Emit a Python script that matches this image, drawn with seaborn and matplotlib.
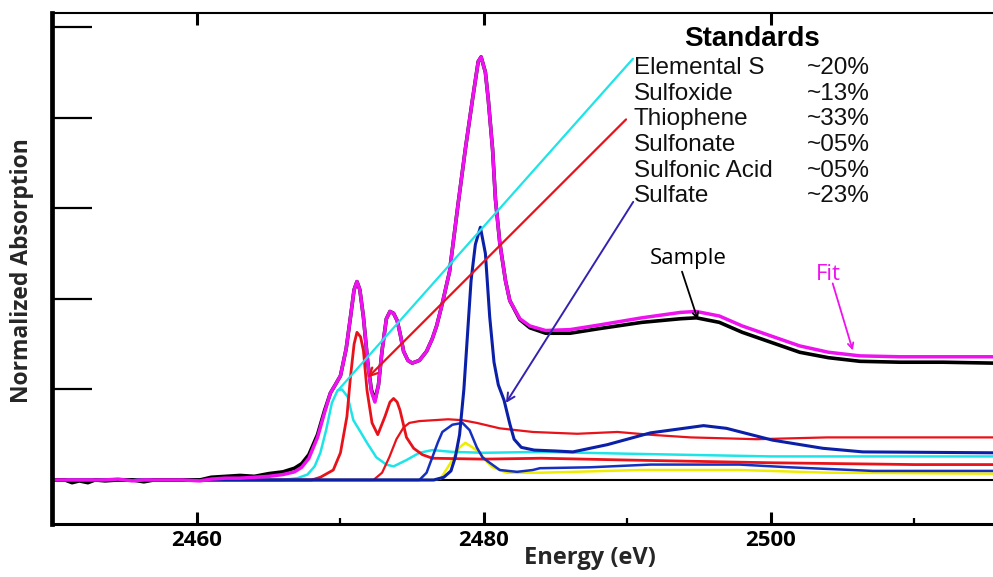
import matplotlib
matplotlib.use("Agg")
import matplotlib.pyplot as plt
import seaborn as sns

# ---------------- data ----------------
energy = [2449.9, 2450.8, 2451.3, 2451.8, 2452.4, 2452.9, 2453.6, 2454.5, 2455.5, 2456.3,
          2457.0, 2459.0, 2460.2, 2461.0, 2462.0, 2463.0, 2464.0, 2465.0, 2466.0, 2466.8,
          2467.3, 2467.8, 2468.4, 2468.9, 2469.3, 2469.6, 2470.0, 2470.4, 2470.7, 2470.95,
          2471.15, 2471.35, 2471.6, 2471.9, 2472.15, 2472.4, 2472.65, 2472.9, 2473.2, 2473.45,
          2473.7, 2473.95, 2474.15, 2474.4, 2474.7, 2475.0, 2475.5, 2476.0, 2476.4, 2476.7,
          2477.1, 2477.6, 2478.2, 2478.7, 2479.2, 2479.6, 2479.8, 2480.1, 2480.3, 2480.6,
          2480.8, 2481.1, 2481.5, 2481.8, 2482.5, 2483.2, 2484.3, 2486.0, 2488.0, 2491.0,
          2493.7, 2494.8, 2496.4, 2498.0, 2500.0, 2502.0, 2504.0, 2506.2, 2509.0, 2512.0, 2515.5]

sample = [0.0, 0.0, -0.03, -0.01, -0.03, 0.0, -0.01, 0.0, 0.0, -0.02,
          0.0, 0.0, 0.0, 0.03, 0.04, 0.05, 0.04, 0.07, 0.09, 0.13,
          0.18, 0.28, 0.5, 0.77, 0.96, 1.04, 1.15, 1.45, 1.8, 2.1,
          2.19, 2.1, 1.8, 1.3, 1.0, 0.88, 1.05, 1.43, 1.78, 1.86,
          1.84, 1.76, 1.62, 1.42, 1.32, 1.29, 1.32, 1.42, 1.56, 1.7,
          1.95, 2.3, 3.05, 3.65, 4.2, 4.62, 4.67, 4.5, 4.2, 3.65,
          3.1, 2.62, 2.2, 1.98, 1.77, 1.68, 1.62, 1.62, 1.67, 1.74,
          1.78, 1.79, 1.74, 1.63, 1.52, 1.41, 1.35, 1.31, 1.30, 1.30, 1.29]

fit = [0.0, 0.0, 0.0, 0.0, 0.0, 0.0, 0.0, 0.01, -0.01, 0.0,
       0.0, 0.0, -0.01, 0.01, 0.02, 0.02, 0.03, 0.04, 0.06, 0.09,
       0.14, 0.24, 0.47, 0.75, 0.96, 1.04, 1.15, 1.45, 1.8, 2.1,
       2.19, 2.1, 1.8, 1.3, 0.98, 0.86, 1.05, 1.43, 1.78, 1.86,
       1.84, 1.76, 1.62, 1.42, 1.32, 1.29, 1.32, 1.42, 1.56, 1.7,
       1.95, 2.3, 3.05, 3.65, 4.2, 4.62, 4.67, 4.5, 4.2, 3.65,
       3.1, 2.62, 2.2, 1.98, 1.78, 1.70, 1.65, 1.66, 1.71, 1.79,
       1.85, 1.86, 1.81, 1.70, 1.59, 1.48, 1.41, 1.37, 1.36, 1.36, 1.36]

elemental_E = [2449.9, 2466.0, 2467.0, 2467.7, 2468.2, 2468.6, 2469.0, 2469.4, 2469.8, 2470.1,
               2470.5, 2470.9, 2471.4, 2471.85, 2472.5, 2473.2, 2473.7, 2474.6, 2475.5, 2476.4,
               2477.8, 2480.0, 2484.0, 2490.0, 2500.0, 2515.5]
elemental_A = [0, 0, 0.02, 0.06, 0.15, 0.3, 0.55, 0.85, 0.99, 1.0,
               0.92, 0.66, 0.53, 0.41, 0.25, 0.17, 0.15, 0.22, 0.3, 0.33,
               0.31, 0.3, 0.31, 0.29, 0.26, 0.26]

thiophene_E = [2449.9, 2468.0, 2468.6, 2469.5, 2470.0, 2470.45, 2470.7, 2470.95, 2471.15, 2471.4,
               2471.6, 2471.85, 2472.2, 2472.6, 2473.1, 2473.45, 2473.7, 2473.95, 2474.15, 2474.6,
               2475.1, 2475.7, 2476.4, 2480.0, 2484.0, 2490.0, 2500.0, 2510.0, 2515.5]
thiophene_A = [0, 0, 0.03, 0.11, 0.3, 0.7, 1.14, 1.5, 1.63, 1.58,
               1.43, 0.99, 0.63, 0.5, 0.7, 0.86, 0.9, 0.86, 0.77, 0.47,
               0.35, 0.28, 0.24, 0.23, 0.24, 0.22, 0.19, 0.17, 0.17]

sulfoxide_E = [2449.9, 2472.3, 2472.9, 2473.4, 2473.9, 2474.4, 2474.8, 2475.5, 2476.5, 2477.5,
               2478.5, 2479.5, 2481.1, 2483.4, 2486.5, 2489.3, 2491.5, 2494.4, 2499.0, 2503.9, 2515.5]
sulfoxide_A = [0, 0, 0.08, 0.25, 0.45, 0.58, 0.63, 0.65, 0.66, 0.67,
               0.66, 0.63, 0.57, 0.53, 0.51, 0.53, 0.5, 0.47, 0.45, 0.47, 0.47]

sulfate_E = [2449.9, 2476.5, 2477.2, 2477.7, 2478.0, 2478.3, 2478.6, 2478.85, 2479.1, 2479.4,
             2479.75, 2480.1, 2480.4, 2480.7, 2481.0, 2481.4, 2481.8, 2482.1, 2482.6, 2483.5,
             2485.0, 2486.2, 2488.6, 2491.6, 2495.3, 2496.9, 2500.1, 2503.6, 2506.4, 2515.5]
sulfate_A = [0, 0, 0.03, 0.1, 0.25, 0.5, 1.0, 1.6, 2.2, 2.6,
             2.79, 2.5, 1.8, 1.3, 1.05, 0.88, 0.62, 0.45, 0.36, 0.33,
             0.32, 0.31, 0.39, 0.52, 0.6, 0.57, 0.44, 0.35, 0.31, 0.3]

sulfonate_E = [2449.9, 2475.5, 2476.0, 2476.4, 2476.8, 2477.1, 2477.8, 2478.5, 2479.0, 2479.5,
               2479.9, 2480.4, 2481.1, 2482.3, 2483.4, 2483.9, 2487.4, 2491.6, 2497.8, 2501.3,
               2507.1, 2515.5]
sulfonate_A = [0, 0, 0.08, 0.25, 0.42, 0.53, 0.61, 0.63, 0.55, 0.36,
               0.25, 0.19, 0.11, 0.09, 0.11, 0.13, 0.14, 0.17, 0.17, 0.14,
               0.1, 0.1]

sulfonic_E = [2449.9, 2476.5, 2477.0, 2477.6, 2478.3, 2478.7, 2479.2, 2479.7, 2480.2, 2480.6,
              2481.6, 2482.5, 2483.9, 2490.9, 2497.8, 2504.1, 2515.5]
sulfonic_A = [0, 0, 0.02, 0.17, 0.36, 0.41, 0.36, 0.3, 0.2, 0.14,
              0.08, 0.08, 0.08, 0.11, 0.11, 0.08, 0.07]

standards = ["Elemental S", "Sulfoxide", "Thiophene", "Sulfonate", "Sulfonic Acid", "Sulfate"]
percents = ["~20%", "~13%", "~33%", "~05%", "~05%", "~23%"]

x_major = [2460, 2480, 2500]
x_major_labels = ["2460", "2480", "2500"]
x_minor = [2470, 2490, 2510]
y_ticks = [1, 2, 3, 4, 5]

# ---------------- style ----------------
sns.set_style("white")
plt.rcParams["font.family"] = ["Liberation Sans", "DejaVu Sans"]

CYAN = "#1ee4e8"
RED = "#e8121a"
BLUE = "#0b20a8"
BLUE2 = "#1530c0"
YELLOW = "#f0ec00"
MAGENTA = "#ee12ee"
ARROW_BLUE = "#3422b0"

fig = plt.figure(figsize=(9.93, 5.77), dpi=100)
ax = fig.add_axes([52 / 993, 53 / 577, 941 / 993, 511 / 577])

ax.axhline(0, color="black", lw=1.5, zorder=1)

components = [
    (sulfonic_E, sulfonic_A, YELLOW, 1.8),
    (elemental_E, elemental_A, CYAN, 1.8),
    (sulfoxide_E, sulfoxide_A, RED, 1.6),
    (thiophene_E, thiophene_A, RED, 2.0),
    (sulfonate_E, sulfonate_A, BLUE2, 1.8),
    (sulfate_E, sulfate_A, BLUE, 2.2),
]
for E, A, c, lw in components:
    sns.lineplot(x=E, y=A, ax=ax, color=c, linewidth=lw, estimator=None,
                 sort=False, legend=False)

sns.lineplot(x=energy, y=sample, ax=ax, color="black", linewidth=2.6,
             estimator=None, sort=False, legend=False)
sns.lineplot(x=energy, y=fit, ax=ax, color=MAGENTA, linewidth=2.5,
             estimator=None, sort=False, legend=False)

ax.set_xlim(2449.9, 2515.47)
ax.set_ylim(-0.486, 5.155)

# ticks
ax.set_xticks(x_major)
ax.set_xticklabels(x_major_labels, fontfamily="Open Sans", fontweight="bold", fontsize=16)
ax.set_xticks(x_minor, minor=True)
ax.tick_params(axis="x", which="major", direction="in", length=8.6, width=2.2,
               top=True, bottom=True, pad=4, colors="black")
ax.tick_params(axis="x", which="minor", direction="in", length=4.3, width=1.6,
               top=False, bottom=True, colors="black")
ax.set_yticks(y_ticks)
ax.tick_params(axis="y", direction="in", length=29, width=1.6, left=True,
               labelleft=False, colors="black")

for side, lw in [("left", 3.4), ("bottom", 2.2), ("top", 1.5)]:
    ax.spines[side].set_linewidth(lw)
    ax.spines[side].set_color("black")
ax.spines["right"].set_visible(False)

ax.set_xlabel("Energy (eV)", fontfamily="Open Sans", fontweight="bold", fontsize=17)
ax.xaxis.set_label_coords(0.572, -0.067)
ax.xaxis.label.set_verticalalignment("center")
ax.set_ylabel("Normalized Absorption", fontfamily="Open Sans", fontweight="bold", fontsize=16.5)
ax.yaxis.set_label_coords(-0.032, 0.495)
ax.yaxis.label.set_verticalalignment("center")

# Standards block
ax.text(2498.68, 4.79, "Standards", ha="center", va="baseline", fontsize=20,
        fontweight="bold", color="black")
y0, dy = 4.48, 0.2826
for i, (name, pct) in enumerate(zip(standards, percents)):
    ax.text(2490.45, y0 - i * dy, name, ha="left", va="baseline", fontsize=17.5, color="#111111")
    ax.text(2502.5, y0 - i * dy, pct, ha="left", va="baseline", fontsize=17.5, color="#111111")

# pointer lines
ax.annotate("", xy=(2469.83, 0.99), xytext=(2490.38, 4.65),
            arrowprops=dict(arrowstyle="-", color=CYAN, lw=1.6, shrinkA=0, shrinkB=0))
ax.annotate("", xy=(2471.9, 1.13), xytext=(2489.9, 3.98),
            arrowprops=dict(arrowstyle="->", color=RED, lw=1.6, shrinkA=0, shrinkB=0,
                            mutation_scale=14))
ax.annotate("", xy=(2481.53, 0.85), xytext=(2490.4, 3.07),
            arrowprops=dict(arrowstyle="->", color=ARROW_BLUE, lw=1.4, shrinkA=0, shrinkB=0,
                            mutation_scale=14))

ax.text(2494.2, 2.45, "Sample", ha="center", va="center", fontsize=16,
        fontfamily="Open Sans", color="black")
ax.annotate("", xy=(2494.9, 1.77), xytext=(2493.8, 2.3),
            arrowprops=dict(arrowstyle="->", color="black", lw=1.3, shrinkA=0, shrinkB=0,
                            mutation_scale=10))
ax.text(2504.0, 2.27, "Fit", ha="center", va="center", fontsize=16,
        fontfamily="Open Sans", color=MAGENTA)
ax.annotate("", xy=(2505.7, 1.43), xytext=(2504.3, 2.17),
            arrowprops=dict(arrowstyle="->", color=MAGENTA, lw=1.3, shrinkA=0, shrinkB=0,
                            mutation_scale=10))

fig.savefig("out.png", dpi=100, facecolor="white")
